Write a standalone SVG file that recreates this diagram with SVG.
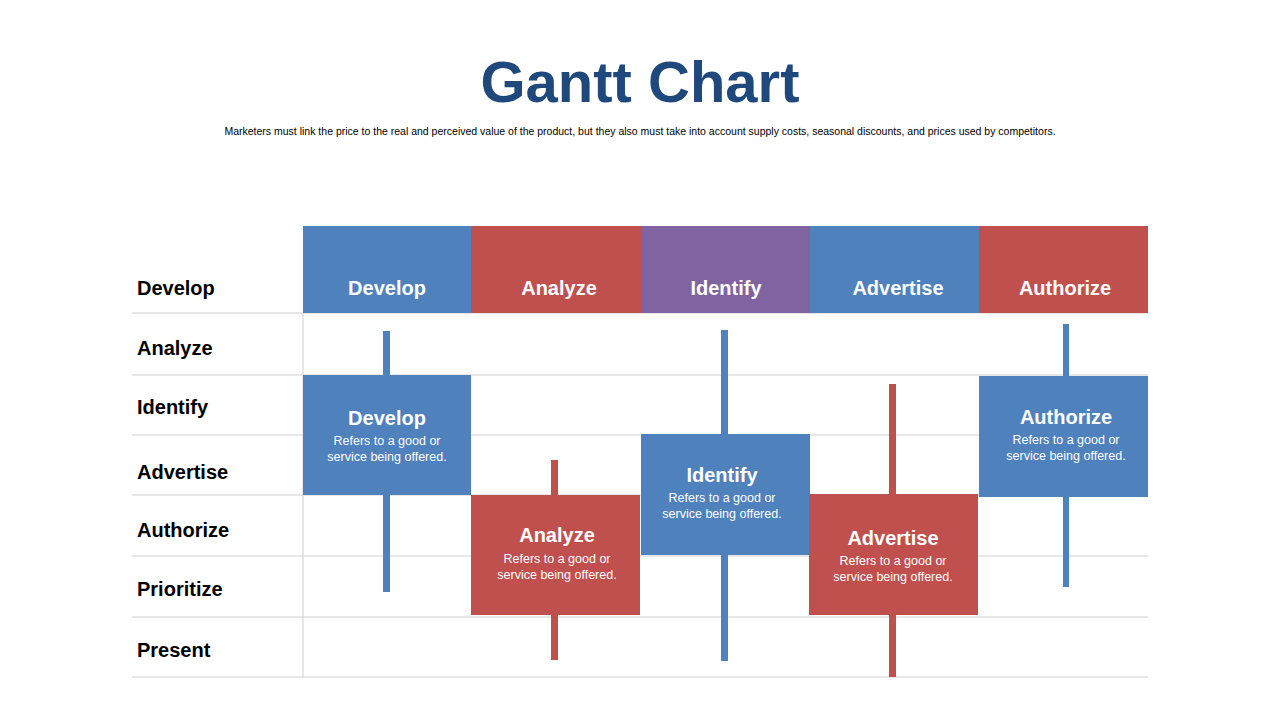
<svg xmlns="http://www.w3.org/2000/svg" width="1280" height="720" viewBox="0 0 1280 720">
<style>
.t{font-family:"Liberation Sans",Arial,sans-serif}
.row{font-family:"Liberation Sans",Arial,sans-serif;font-size:20px;font-weight:bold;fill:#000}
.hd{font-family:"Liberation Sans",Arial,sans-serif;font-size:20px;font-weight:bold;fill:#fff;text-anchor:middle}
.bt{font-family:"Liberation Sans",Arial,sans-serif;font-size:20px;font-weight:bold;fill:#fff;text-anchor:middle}
.bs{font-family:"Liberation Sans",Arial,sans-serif;font-size:12.5px;fill:#fff;text-anchor:middle}
.g{stroke:#d0d0d0;stroke-width:1}
.b{fill:#4F81BD}.r{fill:#C0504D}.p{fill:#8064A2}
</style>
<rect width="1280" height="720" fill="#fff"/>
<text x="640" y="102" class="t" font-size="58" font-weight="bold" fill="#1F497D" text-anchor="middle">Gantt Chart</text>
<text x="640" y="135" class="t" font-size="10.5" fill="#000" text-anchor="middle">Marketers must link the price to the real and perceived value of the product, but they also must take into account supply costs, seasonal discounts, and prices used by competitors.</text>
<g id="grid">
<line class="g" x1="132" y1="313" x2="1148" y2="313"/>
<line class="g" x1="132" y1="375" x2="1148" y2="375"/>
<line class="g" x1="132" y1="435" x2="1148" y2="435"/>
<line class="g" x1="132" y1="495" x2="1148" y2="495"/>
<line class="g" x1="132" y1="556" x2="1148" y2="556"/>
<line class="g" x1="132" y1="617" x2="1148" y2="617"/>
<line class="g" x1="132" y1="677" x2="1148" y2="677"/>
<line class="g" x1="303" y1="313" x2="303" y2="677"/>
</g>
<g id="rows">
<text class="row" x="137" y="295">Develop</text>
<text class="row" x="137" y="355">Analyze</text>
<text class="row" x="137" y="414">Identify</text>
<text class="row" x="137" y="479">Advertise</text>
<text class="row" x="137" y="537">Authorize</text>
<text class="row" x="137" y="596">Prioritize</text>
<text class="row" x="137" y="657">Present</text>
</g>
<g id="header">
<rect class="b" x="303" y="226" width="168" height="87"/><text class="hd" x="387" y="295">Develop</text>
<rect class="r" x="471" y="226" width="170" height="87"/><text class="hd" x="559" y="295">Analyze</text>
<rect class="p" x="641" y="226" width="169" height="87"/><text class="hd" x="726" y="295">Identify</text>
<rect class="b" x="810" y="226" width="169" height="87"/><text class="hd" x="898" y="295">Advertise</text>
<rect class="r" x="979" y="226" width="169" height="87"/><text class="hd" x="1065" y="295">Authorize</text>
</g>
<g id="task-develop">
<rect class="b" x="383" y="331" width="7" height="261"/>
<rect class="b" x="303" y="375" width="168" height="120"/>
<text class="bt" x="387" y="425">Develop</text>
<text class="bs" x="387" y="445">Refers to a good or</text>
<text class="bs" x="387" y="461">service being offered.</text>
</g>
<g id="task-analyze">
<rect class="r" x="551" y="460" width="7" height="200"/>
<rect class="r" x="471" y="495" width="169" height="120"/>
<text class="bt" x="557" y="542">Analyze</text>
<text class="bs" x="557" y="563">Refers to a good or</text>
<text class="bs" x="557" y="579">service being offered.</text>
</g>
<g id="task-identify">
<rect class="b" x="721" y="330" width="7" height="331"/>
<rect class="b" x="641" y="434" width="169" height="121"/>
<text class="bt" x="722" y="482">Identify</text>
<text class="bs" x="722" y="502">Refers to a good or</text>
<text class="bs" x="722" y="518">service being offered.</text>
</g>
<g id="task-advertise">
<rect class="r" x="889" y="384" width="7" height="293"/>
<rect class="r" x="809" y="494" width="169" height="121"/>
<text class="bt" x="893" y="545">Advertise</text>
<text class="bs" x="893" y="565">Refers to a good or</text>
<text class="bs" x="893" y="581">service being offered.</text>
</g>
<g id="task-authorize">
<rect class="b" x="1063" y="324" width="6" height="263"/>
<rect class="b" x="979" y="376" width="169" height="121"/>
<text class="bt" x="1066" y="424">Authorize</text>
<text class="bs" x="1066" y="444">Refers to a good or</text>
<text class="bs" x="1066" y="460">service being offered.</text>
</g>
<g id="connectors"></g>
</svg>
